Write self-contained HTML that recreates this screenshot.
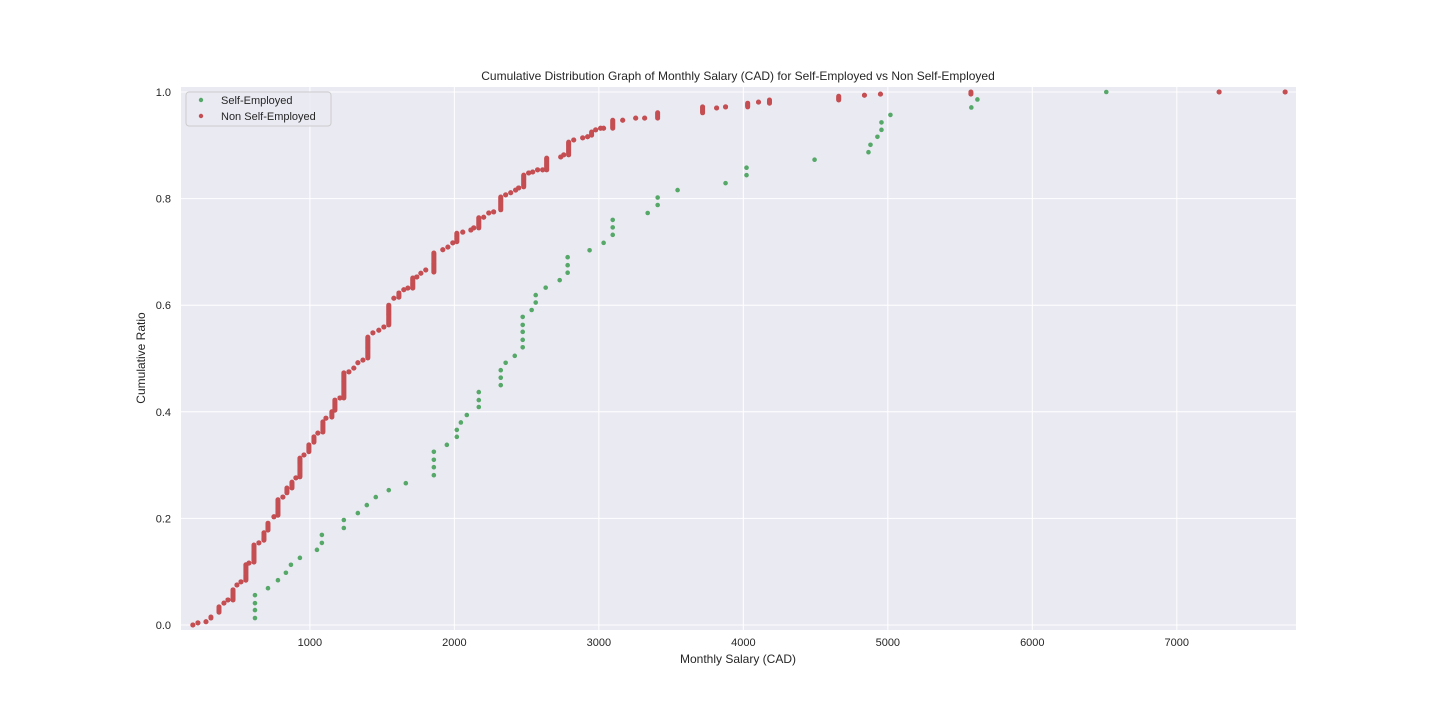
<!DOCTYPE html>
<html><head><meta charset="utf-8"><style>
body{margin:0;background:#fff;font-family:"Liberation Sans",sans-serif;}
svg text{font-family:"Liberation Sans",sans-serif;fill:#262626;}
</style></head><body>
<svg id="chart" width="1440" height="720">
<rect x="181" y="87" width="1115" height="543" fill="#eaeaf2"/>
<g id="grid"></g><g id="ticks"></g><g id="marks"></g>
<text x="738" y="80" text-anchor="middle" font-size="12">Cumulative Distribution Graph of Monthly Salary (CAD) for Self-Employed vs Non Self-Employed</text>
<text x="738" y="663" text-anchor="middle" font-size="12">Monthly Salary (CAD)</text>
<text x="145" y="358" text-anchor="middle" font-size="12" transform="rotate(-90 145 358)">Cumulative Ratio</text>
<g>
<rect x="186" y="92" width="145" height="34" rx="3" fill="#eaeaf2" fill-opacity="0.8" stroke="#cccccc"/>
<circle cx="201" cy="100" r="2.2" fill="#55a868"/>
<text x="221" y="104" font-size="11">Self-Employed</text>
<circle cx="201" cy="116" r="2.2" fill="#c44e52"/>
<text x="221" y="120" font-size="11">Non Self-Employed</text>
</g>
</svg>
<script>
const xTicks=[1000,2000,3000,4000,5000,6000,7000];
const yTicks=[0,0.2,0.4,0.6,0.8,1.0];
const selfX=[620,620,620,620,710,779,834,869,931,1049,1083,1083,1235,1235,1332,1394,1456,1546,1664,1858,1858,1858,1858,1948,2017,2017,2045,2086,2169,2169,2169,2321,2321,2321,2355,2418,2473,2473,2473,2473,2473,2535,2563,2563,2632,2729,2784,2784,2784,2936,3033,3096,3096,3096,3338,3407,3407,3545,3877,4022,4022,4493,4866,4880,4928,4956,4956,5018,5578,5620,6512];
const selfY=[0.013,0.028,0.041,0.056,0.069,0.084,0.098,0.113,0.126,0.141,0.154,0.169,0.182,0.197,0.210,0.225,0.240,0.253,0.266,0.281,0.296,0.310,0.325,0.338,0.353,0.366,0.380,0.394,0.409,0.422,0.437,0.450,0.464,0.478,0.492,0.505,0.521,0.535,0.550,0.563,0.578,0.591,0.605,0.619,0.633,0.647,0.661,0.675,0.690,0.703,0.717,0.732,0.746,0.760,0.773,0.788,0.802,0.816,0.829,0.844,0.858,0.873,0.887,0.901,0.916,0.929,0.943,0.957,0.971,0.986,1.0];
const nonX=[190,225,281,315,371,405,433,468,495,523,557,578,613,647,682,710,751,779,813,841,876,903,931,959,993,1028,1055,1090,1111,1152,1173,1208,1235,1270,1304,1332,1367,1401,1436,1477,1512,1546,1581,1616,1650,1678,1712,1740,1768,1802,1858,1920,1955,1989,2017,2058,2114,2134,2169,2203,2238,2272,2321,2355,2390,2424,2445,2480,2514,2542,2576,2611,2639,2736,2757,2791,2826,2888,2922,2950,2978,3012,3033,3096,3165,3255,3317,3407,3718,3815,3877,4030,4105,4181,4660,4838,4949,5575,7293,7750];
const nonYlo=[0,0.004,0.006,0.013,0.024,0.041,0.047,0.047,0.075,0.081,0.084,0.116,0.118,0.154,0.159,0.178,0.203,0.206,0.240,0.248,0.257,0.276,0.278,0.319,0.325,0.343,0.360,0.362,0.388,0.390,0.403,0.426,0.426,0.475,0.482,0.492,0.497,0.501,0.548,0.553,0.559,0.563,0.613,0.615,0.629,0.632,0.632,0.653,0.660,0.666,0.662,0.704,0.709,0.717,0.719,0.737,0.741,0.745,0.745,0.765,0.773,0.775,0.779,0.807,0.811,0.816,0.820,0.822,0.848,0.850,0.854,0.854,0.854,0.878,0.882,0.882,0.910,0.914,0.916,0.919,0.929,0.932,0.932,0.932,0.947,0.951,0.951,0.951,0.961,0.970,0.972,0.972,0.981,0.979,0.985,0.994,0.996,0.996,1.0,1.0];
const nonYhi=[0,0.004,0.006,0.015,0.034,0.041,0.047,0.066,0.075,0.081,0.113,0.116,0.150,0.154,0.173,0.191,0.203,0.235,0.240,0.257,0.268,0.276,0.313,0.319,0.338,0.353,0.360,0.381,0.388,0.400,0.422,0.426,0.473,0.475,0.482,0.492,0.497,0.540,0.548,0.553,0.559,0.600,0.613,0.623,0.629,0.632,0.651,0.653,0.660,0.666,0.698,0.704,0.709,0.717,0.735,0.737,0.741,0.745,0.764,0.765,0.773,0.775,0.803,0.807,0.811,0.816,0.820,0.844,0.848,0.850,0.854,0.854,0.876,0.878,0.882,0.906,0.910,0.914,0.916,0.925,0.929,0.932,0.932,0.947,0.947,0.951,0.951,0.961,0.972,0.970,0.972,0.979,0.981,0.985,0.992,0.994,0.996,1.0,1.0,1.0];
const NS='http://www.w3.org/2000/svg';
const X0=181,X1=1296,Y0=630,Y1=87,XMIN=108,XMAX=7825,YMIN=-0.0094,YMAX=1.0094;
function sx(v){return X0+(v-XMIN)/(XMAX-XMIN)*(X1-X0);}
function sy(v){return Y0-(v-YMIN)/(YMAX-YMIN)*(Y0-Y1);}
function mk(t,a,p){const e=document.createElementNS(NS,t);for(const k in a)e.setAttribute(k,a[k]);p.appendChild(e);return e;}
const grid=document.getElementById('grid'),ticks=document.getElementById('ticks'),marks=document.getElementById('marks');
xTicks.forEach(v=>{
  const l=mk('line',{x1:sx(v),x2:sx(v),y1:Y1,y2:Y0,stroke:'#fff','stroke-width':1},grid);
  
  
  const t=mk('text',{x:sx(v),y:Y0+16,'text-anchor':'middle','font-size':11},ticks);
  t.textContent=v;
  
  
});
yTicks.forEach(v=>{
  const l=mk('line',{x1:X0,x2:X1,y1:sy(v),y2:sy(v),stroke:'#fff','stroke-width':1},grid);
  
  
  const t=mk('text',{x:X0-10,y:sy(v)+4,'text-anchor':'end','font-size':11},ticks);
  t.textContent=v.toFixed(1);
  
  
});
nonX.forEach((v,i)=>{
  const a=sy(nonYlo[i]),b=sy(nonYhi[i]);
  const n=Math.max(1,Math.round(Math.abs(a-b)));
  for(let k=0;k<=n;k++){
    const c=mk('circle',{cx:sx(v),cy:a+(b-a)*k/n,r:2.5,fill:'#c44e52'},marks);
    
    
  }
});
selfX.forEach((v,i)=>{
  const c=mk('circle',{cx:sx(v),cy:sy(selfY[i]),r:2.3,fill:'#55a868'},marks);
  
  
});
</script>
</body></html>
